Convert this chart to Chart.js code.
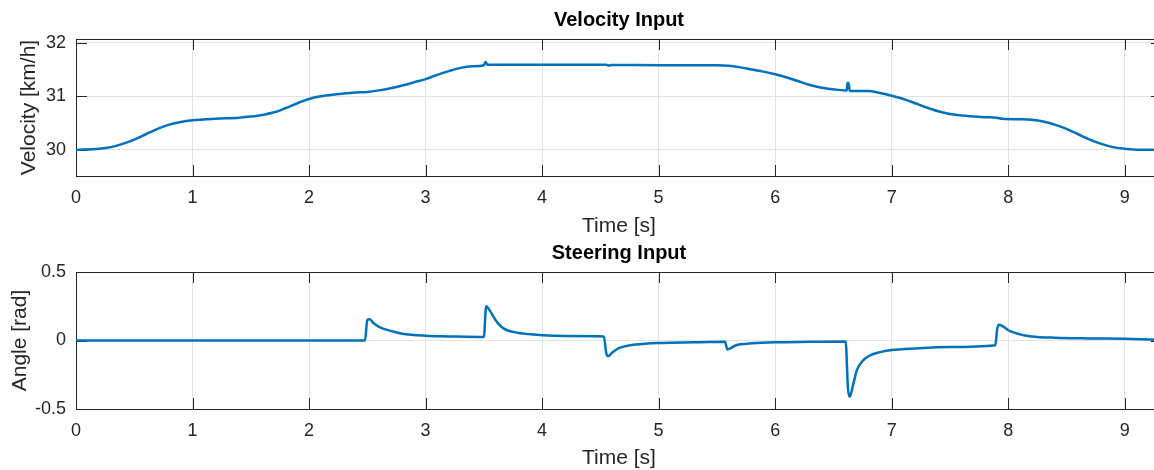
<!DOCTYPE html>
<html>
<head>
<meta charset="utf-8">
<script src="https://cdn.jsdelivr.net/npm/chart.js@4.4.0/dist/chart.umd.min.js"></script>
<style>
  body { margin: 0; background: #fff; width: 1154px; height: 470px; overflow: hidden; position: relative; }
  .plot { position: absolute; left: 0; width: 1162px; height: 240px; }
</style>
</head>
<body>
<div class="plot" style="top:0"><canvas id="velocityChart"></canvas></div>
<div class="plot" style="top:233px"><canvas id="steeringChart"></canvas></div>
<script>
// time ticks shared by both plots
const timeTicks = [0, 1, 2, 3, 4, 5, 6, 7, 8, 9];

// Velocity Input [km/h]
const velTime = [0, 0.2, 0.3, 0.4, 0.5, 0.6, 0.7, 0.8, 0.9, 1.0, 1.2, 1.4, 1.5, 1.6, 1.7, 1.8, 1.9, 2.0, 2.1, 2.2,
  2.4, 2.5, 2.6, 2.7, 2.8, 2.9, 3.0, 3.1, 3.2, 3.3, 3.4, 3.5, 3.515, 3.53, 4.0, 4.55, 4.57, 4.6, 5.0, 5.5,
  5.6, 5.7, 5.8, 5.9, 6.0, 6.1, 6.2, 6.3, 6.4, 6.5, 6.6, 6.615, 6.62, 6.63, 6.64, 6.8, 6.9, 7.0, 7.1, 7.2,
  7.3, 7.4, 7.5, 7.6, 7.8, 7.9, 7.95, 8.1, 8.2, 8.3, 8.4, 8.5, 8.6, 8.7, 8.8, 8.9, 9.0, 9.1, 9.32];
const velValues = [30.00, 30.02, 30.05, 30.11, 30.19, 30.29, 30.39, 30.47, 30.52, 30.55, 30.58, 30.60, 30.62, 30.65, 30.70, 30.78, 30.87, 30.95, 31.00, 31.03,
  31.07, 31.08, 31.11, 31.15, 31.20, 31.26, 31.32, 31.40, 31.47, 31.53, 31.56, 31.58, 31.64, 31.59, 31.59, 31.59, 31.575, 31.585, 31.58, 31.58,
  31.57, 31.54, 31.50, 31.46, 31.41, 31.35, 31.28, 31.21, 31.16, 31.13, 31.11, 31.11, 31.25, 31.25, 31.10, 31.10, 31.06, 31.01, 30.95, 30.87,
  30.79, 30.72, 30.67, 30.64, 30.61, 30.60, 30.58, 30.57, 30.56, 30.53, 30.47, 30.39, 30.29, 30.19, 30.11, 30.05, 30.02, 30.00, 30.00];

// Steering Input [rad]
const steerTime = [0, 2.48, 2.5, 2.52, 2.55, 2.6, 2.7, 2.8, 3.0, 3.2, 3.5, 3.52, 3.55, 3.6, 3.65, 3.7, 3.8, 3.9, 4.0, 4.2,
  4.53, 4.55, 4.565, 4.6, 4.65, 4.7, 4.8, 5.0, 5.3, 5.57, 5.59, 5.61, 5.65, 5.7, 5.8, 6.0, 6.3, 6.605, 6.625, 6.64,
  6.67, 6.7, 6.75, 6.8, 6.9, 7.0, 7.2, 7.5, 7.89, 7.905, 7.92, 7.97, 8.0, 8.1, 8.2, 8.4, 8.7, 9.0, 9.32];
const steerValues = [0, 0, 0.15, 0.155, 0.13, 0.10, 0.07, 0.05, 0.035, 0.03, 0.025, 0.25, 0.22, 0.15, 0.10, 0.075, 0.055, 0.045, 0.038, 0.033,
  0.03, -0.09, -0.115, -0.09, -0.06, -0.045, -0.03, -0.018, -0.013, -0.01, -0.065, -0.06, -0.04, -0.028, -0.02, -0.013, -0.01, -0.008, -0.35, -0.41,
  -0.32, -0.22, -0.15, -0.115, -0.085, -0.07, -0.058, -0.048, -0.035, 0.08, 0.115, 0.095, 0.075, 0.045, 0.03, 0.02, 0.015, 0.012, 0.005];

const velTicks = [30, 31, 32];
const steerTicks = [-0.5, 0, 0.5];

const FONT = "'Liberation Sans', Arial, sans-serif";
const INK = '#262626';

// MATLAB-like box with inward tick marks on all four sides
const boxTicks = {
  id: 'boxTicks',
  beforeDatasetsDraw(chart) {
    const { ctx, chartArea: a, scales: { x, y } } = chart;
    const len = 11;
    ctx.save();
    ctx.strokeStyle = INK;
    ctx.lineWidth = 1;
    ctx.beginPath();
    x.ticks.forEach(t => {
      const px = Math.round(x.getPixelForValue(t.value)) + 0.5;
      ctx.moveTo(px, a.bottom); ctx.lineTo(px, a.bottom - len);
      ctx.moveTo(px, a.top); ctx.lineTo(px, a.top + len);
    });
    y.ticks.forEach(t => {
      const py = Math.round(y.getPixelForValue(t.value)) + 0.5;
      ctx.moveTo(a.left, py); ctx.lineTo(a.left + len, py);
      ctx.moveTo(a.right, py); ctx.lineTo(a.right - len, py);
    });
    ctx.stroke();
    ctx.strokeRect(Math.round(a.left) + 0.5, Math.round(a.top) + 0.5,
      Math.round(a.right - a.left) - 1, Math.round(a.bottom - a.top));
    ctx.restore();
  }
};

function makeChart(id, cfg) {
  return new Chart(document.getElementById(id), {
    type: 'line',
    data: {
      datasets: [{
        data: cfg.time.map((t, i) => ({ x: t, y: cfg.values[i] })),
        borderColor: '#0072BD',
        borderWidth: 2.5,
        pointRadius: 0,
        cubicInterpolationMode: 'monotone',
        fill: false
      }]
    },
    options: {
      responsive: true,
      maintainAspectRatio: false,
      animation: false,
      layout: { padding: { left: cfg.padLeft, right: 0, top: 0, bottom: 0 } },
      plugins: {
        legend: { display: false },
        tooltip: { enabled: false },
        title: {
          display: true,
          text: cfg.title,
          color: '#000',
          fullSize: false,
          font: { family: FONT, size: 20, weight: 'bold' },
          padding: { top: 8, bottom: 7 }
        }
      },
      scales: {
        x: {
          type: 'linear',
          min: 0,
          max: 9.32,
          afterBuildTicks: s => { s.ticks = timeTicks.map(v => ({ value: v })); },
          afterFit: s => { s.height = 64; },
          grid: { color: '#e3e3e3', drawTicks: false },
          border: { display: false },
          ticks: { color: INK, font: { family: FONT, size: 18 }, padding: 11, maxRotation: 0 },
          title: {
            display: true,
            text: 'Time [s]',
            color: INK,
            font: { family: FONT, size: 21 },
            padding: { top: 0, bottom: cfg.xTitlePad }
          }
        },
        y: {
          min: cfg.yMin,
          max: cfg.yMax,
          afterBuildTicks: s => { s.ticks = cfg.yTicks.map(v => ({ value: v })); },
          afterFit: s => { s.width = 76 - cfg.padLeft; },
          grid: { color: '#e3e3e3', drawTicks: false },
          border: { display: false },
          ticks: { color: INK, font: { family: FONT, size: 18 }, padding: 10 },
          title: {
            display: true,
            text: cfg.yLabel,
            color: INK,
            font: { family: FONT, size: 21 },
            padding: { top: 4, bottom: 0 }
          }
        }
      }
    },
    plugins: [boxTicks]
  });
}

makeChart('velocityChart', {
  time: velTime, values: velValues, title: 'Velocity Input', yLabel: 'Velocity [km/h]',
  yMin: 29.51, yMax: 32.07, yTicks: velTicks, padLeft: 13, xTitlePad: 1
});

makeChart('steeringChart', {
  time: steerTime, values: steerValues, title: 'Steering Input', yLabel: 'Angle [rad]',
  yMin: -0.5, yMax: 0.5, yTicks: steerTicks, padLeft: 4, xTitlePad: 2
});
</script>
</body>
</html>
